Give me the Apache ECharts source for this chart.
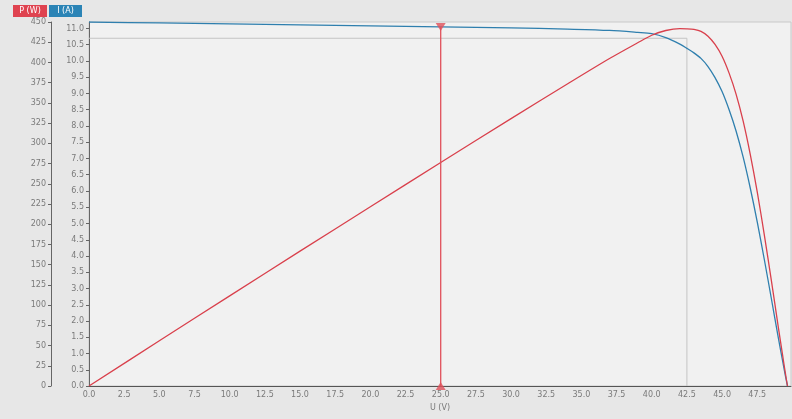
<!DOCTYPE html>
<html>
<head>
<meta charset="utf-8">
<script src="https://cdn.jsdelivr.net/npm/echarts@6/dist/echarts.min.js"></script>
<style>html,body{margin:0;padding:0;background:#e7e7e7;}#c{width:792px;height:419px;}</style>
</head>
<body>
<div id="c"></div>
<script>
// Voltage (V)
const voltage = [0, 5, 10, 15, 20, 25, 30, 34, 37, 39, 40, 41, 42, 42.5, 43, 43.5, 44, 44.5, 45, 45.5, 46, 46.5, 47, 47.5, 48, 48.5, 49, 49.3, 49.5, 49.65];
// Current (A)
const current = [11.2, 11.17, 11.14, 11.11, 11.08, 11.05, 11.02, 10.98, 10.94, 10.88, 10.84, 10.72, 10.52, 10.39, 10.25, 10.08, 9.83, 9.49, 9.06, 8.5, 7.84, 7.04, 6.1, 5.05, 3.9, 2.7, 1.48, 0.78, 0.32, 0];
// Power (W)
const power = [0, 55.9, 111.4, 166.7, 221.6, 276.3, 330.6, 373.3, 404.8, 424.3, 433.6, 439.5, 441.8, 441.6, 440.8, 438.5, 432.5, 422.3, 407.7, 386.8, 360.6, 327.4, 286.7, 239.9, 187.2, 131.0, 72.5, 38.5, 15.8, 0];
// cursor and MPP guide
const cursorU = [25.0, 25.0];
const cursorI = [0, 11.05];
const cursorRot = [0, 180];
const mppU = [0, 42.5, 42.5];
const mppI = [10.7, 10.7, 0];
// legend labels
const legendNames = ['P (W)', 'I (A)'];
const legendColors = ['#df4350', '#2b84b6'];

const RED = '#d9404c', BLUE = '#2f7fae';
const lblStyle = {fontSize: 8, color: '#7a7a7a', fontFamily: 'DejaVu Sans'};

const chart = echarts.init(document.getElementById('c'), null, {renderer: 'canvas'});
chart.setOption({
  backgroundColor: '#e7e7e7',
  animation: false,
  grid: {left: 89, right: 1, top: 22, bottom: 33, show: true, backgroundColor: '#f1f1f1', borderColor: '#c9c9c9', borderWidth: 1},
  graphic: [
    {type: 'group', left: 13, top: 5, children: [
      {type: 'rect', shape: {x: 0, y: 0, width: 34, height: 12}, style: {fill: legendColors[0]}},
      {type: 'text', x: 17, y: 6, style: {text: legendNames[0], fill: '#fff', fontSize: 8, fontFamily: 'DejaVu Sans', align: 'center', verticalAlign: 'middle'}},
      {type: 'rect', shape: {x: 36, y: 0, width: 33, height: 12}, style: {fill: legendColors[1]}},
      {type: 'text', x: 52.5, y: 6, style: {text: legendNames[1], fill: '#fff', fontSize: 8, fontFamily: 'DejaVu Sans', align: 'center', verticalAlign: 'middle'}}
    ]}
  ],
  xAxis: {
    type: 'value', min: 0, max: 49.9, interval: 2.5,
    name: 'U (V)', nameLocation: 'middle', nameGap: 18,
    nameTextStyle: {fontSize: 8, color: '#777', fontFamily: 'DejaVu Sans'},
    axisLine: {show: true, lineStyle: {color: '#555', width: 1}},
    axisTick: {show: false},
    splitLine: {show: false},
    axisLabel: Object.assign({margin: 5, showMaxLabel: false, formatter: v => v.toFixed(1)}, lblStyle)
  },
  yAxis: [
    {
      type: 'value', position: 'left', offset: 0, min: 0, max: 11.2, interval: 0.5,
      axisLine: {show: true, lineStyle: {color: '#666', width: 1}},
      axisTick: {show: true, length: 3, lineStyle: {color: '#666'}},
      splitLine: {show: false},
      axisLabel: Object.assign({margin: 5, showMaxLabel: false, formatter: v => v.toFixed(1)}, lblStyle)
    },
    {
      type: 'value', position: 'left', offset: 38, min: 0, max: 450, interval: 25,
      axisLine: {show: true, lineStyle: {color: '#666', width: 1}},
      axisTick: {show: true, length: 3, lineStyle: {color: '#666'}},
      splitLine: {show: false},
      axisLabel: Object.assign({margin: 5}, lblStyle)
    }
  ],
  series: [
    {
      name: 'MPP', type: 'line', yAxisIndex: 0, silent: true,
      data: mppU.map((u, k) => [u, mppI[k]]),
      symbol: 'none', lineStyle: {color: '#c4c4c4', width: 1}, z: 1
    },
    {
      name: 'I (A)', type: 'line', yAxisIndex: 0,
      data: voltage.map((u, k) => [u, current[k]]),
      symbol: 'none', smooth: 0.3,
      lineStyle: {color: BLUE, width: 1.3}, z: 3
    },
    {
      name: 'P (W)', type: 'line', yAxisIndex: 1,
      data: voltage.map((u, k) => [u, power[k]]),
      symbol: 'none', smooth: 0.3,
      lineStyle: {color: RED, width: 1.3}, z: 4
    },
    {
      name: 'cursor', type: 'line', yAxisIndex: 0, silent: true,
      data: cursorU.map((u, k) => [u, cursorI[k]]),
      symbol: 'none', lineStyle: {color: '#e0505a', width: 1.3}, z: 5
    },
    {
      name: 'cursorMarks', type: 'scatter', yAxisIndex: 0, silent: true,
      data: cursorU.map((u, k) => ({value: [u, cursorI[k]], symbolRotate: cursorRot[k]})),
      symbol: 'triangle', symbolSize: [10, 8],
      itemStyle: {color: '#e0505a'}, z: 6
    }
  ]
});
</script>
</body>
</html>
